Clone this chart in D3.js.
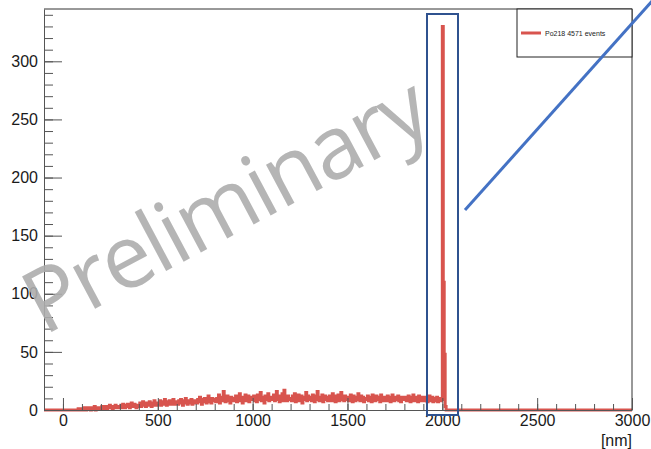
<!DOCTYPE html>
<meta charset="utf-8">
<style>
body { margin: 0; background: #fff; }
svg { display: block; font-family: "Liberation Sans", Arial, sans-serif; }
.axis text { font-size: 16px; fill: #1a1a1a; }
.axis path, .axis line { stroke: #555; }
</style>
<svg width="651" height="449"></svg>
<script src="https://d3js.org/d3.v7.min.js"></script>
<script>

// histogram: 5 nm bins starting at 0 nm, one row per 100 nm
var binWidth = 5;
var counts = [
  0,0,0,0,0,0,0,0,0,0,0,0,0,0,0,0,1,0,1,0,
  1,0,2,1,0,1,2,1,1,0,2,1,1,3,0,1,2,1,2,1,
  2,3,1,2,3,2,1,3,2,4,2,3,1,2,3,4,2,3,2,3,
  3,4,2,5,3,2,4,3,5,4,2,3,6,4,3,5,4,2,4,3,
  4,6,3,5,7,4,5,3,6,5,4,7,5,3,6,4,8,5,4,6,
  6,5,8,4,7,6,5,9,6,4,7,5,8,6,5,7,9,6,5,7,
  7,5,8,6,9,7,4,8,6,10,7,5,8,7,6,9,5,8,7,6,
  8,6,9,7,11,8,5,9,7,10,8,6,9,12,7,8,6,10,8,9,
  9,7,10,8,13,6,9,11,8,16,10,7,9,12,8,10,6,11,9,8,
  10,8,12,7,11,9,14,8,10,6,11,9,13,8,10,12,7,9,11,10,
  9,12,8,11,7,13,10,9,15,8,11,10,6,12,9,11,14,8,10,9,
  11,9,13,8,10,16,9,12,7,11,10,14,8,17,9,11,8,12,10,9,
  10,8,12,9,14,7,11,10,13,8,9,12,6,11,10,9,15,8,12,10,
  9,11,8,13,10,7,12,9,16,10,8,11,9,13,7,10,12,9,11,8,
  10,12,9,8,14,10,11,7,12,9,13,8,10,15,9,11,8,12,10,9,
  11,8,10,13,9,7,12,10,8,11,9,14,10,8,12,9,11,7,10,9,
  9,12,8,10,11,7,13,9,10,8,12,9,11,10,7,13,9,8,11,10,
  10,8,12,9,11,7,10,13,9,8,11,10,9,12,8,10,7,11,9,10,
  9,11,8,10,12,9,7,11,10,13,8,9,11,10,7,12,9,10,8,11,
  10,8,11,9,7,10,12,8,9,11,7,10,9,8,11,7,9,10,8,9,
  330,110,48,3
];

var xTicks = [0, 500, 1000, 1500, 2000, 2500, 3000];
var yTicks = [0, 50, 100, 150, 200, 250, 300];
var legendLabel = "Po218 4571 events";
var xTitle = "[nm]";
var watermark = "Preliminary";

var svg = d3.select("svg");

var fL = 44, fR = 632, fT = 9, fB = 410;

var x = d3.scaleLinear().domain([-100, 3000]).range([fL, fR]);
var y = d3.scaleLinear().domain([0, 345]).range([fB, fT]);

// step outline over the full axis range
var pts = [];
for (var e = -100; e < 3000; e += binWidth) {
  var i = Math.round(e / binWidth);
  pts.push([e, (i >= 0 && i < counts.length) ? counts[i] : 0]);
}
pts.push([3000, 0]);

svg.append("path")
    .datum(pts)
    .attr("fill", "none")
    .attr("stroke", "#d8544e")
    .attr("stroke-width", 3)
    .attr("d", d3.line()
      .curve(d3.curveStepAfter)
      .x(function(d) { return x(d[0]); })
      .y(function(d) { return y(d[1]); }));

// frame top / right
svg.append("path")
    .attr("d", "M" + fL + "," + fT + "H" + fR + "V" + fB)
    .attr("fill", "none")
    .attr("stroke", "#333");

// minor ticks
svg.append("g")
    .attr("class", "axis")
    .attr("transform", "translate(" + fL + ",0)")
    .call(d3.axisLeft(y).tickValues(d3.range(0, 345, 10)).tickSize(-9).tickFormat(""))
    .select(".domain").remove();

svg.append("g")
    .attr("class", "axis")
    .attr("transform", "translate(0," + fB + ")")
    .call(d3.axisBottom(x).tickValues(d3.range(0, 3001, 100)).tickSize(-6).tickFormat(""))
    .select(".domain").remove();

// major ticks + labels
svg.append("g")
    .attr("class", "axis")
    .attr("transform", "translate(" + fL + ",0)")
    .call(d3.axisLeft(y).tickValues(yTicks).tickSize(-18).tickPadding(6)
      .tickSizeOuter(0).tickFormat(d3.format("d")));

svg.append("g")
    .attr("class", "axis")
    .attr("transform", "translate(0," + fB + ")")
    .call(d3.axisBottom(x).tickValues(xTicks).tickSize(-12).tickPadding(5)
      .tickSizeOuter(0).tickFormat(d3.format("d")));

svg.append("text")
    .attr("x", fR)
    .attr("y", 446)
    .attr("text-anchor", "end")
    .attr("font-size", 16)
    .attr("fill", "#1a1a1a")
    .text(xTitle);

// legend
var lg = svg.append("g");
lg.append("rect")
    .attr("x", 517).attr("y", fT)
    .attr("width", fR - 517).attr("height", 48)
    .attr("fill", "#fff").attr("stroke", "#222");
lg.append("line")
    .attr("x1", 521).attr("x2", 541).attr("y1", 33).attr("y2", 33)
    .attr("stroke", "#d8544e").attr("stroke-width", 3);
lg.append("text")
    .attr("x", 545).attr("y", 35.5)
    .attr("font-size", 7)
    .attr("fill", "#222")
    .text(legendLabel);

// watermark
svg.append("text")
    .attr("transform", "translate(44,336) rotate(-28)")
    .attr("font-family", "'Open Sans', sans-serif")
    .attr("font-size", 88)
    .attr("letter-spacing", -2.5)
    .attr("fill", "#adadad")
    .attr("fill-opacity", 0.9)
    .text(watermark);

// highlight box and pointer
svg.append("rect")
    .attr("x", 427).attr("y", 14)
    .attr("width", 31).attr("height", 401)
    .attr("fill", "none")
    .attr("stroke", "#2f528f")
    .attr("stroke-width", 2);

svg.append("line")
    .attr("x1", 465).attr("y1", 210)
    .attr("x2", 653).attr("y2", 0)
    .attr("stroke", "#4472c4")
    .attr("stroke-width", 3);

</script>
